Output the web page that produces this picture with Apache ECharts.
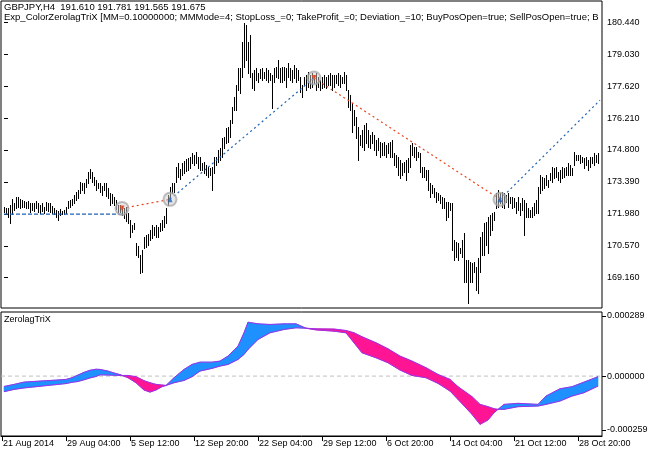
<!DOCTYPE html>
<html><head><meta charset="utf-8">
<script src="https://cdn.jsdelivr.net/npm/echarts@6/dist/echarts.min.js"></script>
<style>html,body{margin:0;padding:0;background:#fff}#c{width:652px;height:456px}</style>
</head><body><div id="c"></div>
<script>
// ---- price bars (H4), high / low ----
const highs = [
172.30,172.22,172.22,172.37,172.62,172.44,172.74,172.71,172.62,172.59,
172.56,172.52,172.56,172.44,172.44,172.47,172.56,172.44,172.37,172.44,
172.30,172.52,172.47,172.44,172.33,172.25,172.15,172.12,172.18,172.12,
172.15,172.30,172.55,172.59,172.62,172.81,172.96,173.03,173.40,173.36,
173.33,173.50,173.84,173.95,173.84,173.59,173.47,173.36,173.33,173.21,
173.36,173.33,173.11,172.89,172.86,172.74,172.59,172.37,172.37,172.33,
172.22,172.30,172.03,171.71,171.49,171.56,170.68,170.56,170.16,170.38,
170.97,171.04,171.09,171.27,171.49,171.41,171.49,171.38,171.59,171.71,
171.88,172.22,172.81,173.18,173.33,173.33,174.06,174.21,173.95,174.24,
174.33,174.39,174.43,174.50,174.68,174.58,174.73,174.47,
174.50,174.21,174.28,174.14,174.06,173.99,174.06,174.50,174.50,174.80,
174.87,175.32,175.39,175.76,175.83,176.12,176.71,177.16,177.67,178.41,
178.41,179.58,180.39,180.32,179.58,179.88,178.19,178.33,178.41,178.19,
178.36,178.41,178.26,178.41,178.33,178.19,178.11,178.41,178.48,178.77,
178.41,178.48,178.48,178.41,178.63,178.41,178.33,178.55,178.41,178.33,
178.04,177.67,178.04,178.11,178.26,178.11,178.19,178.11,178.19,178.04,
177.89,178.04,178.11,178.04,178.11,178.19,178.11,178.11,178.11,178.19,
178.11,178.04,178.26,178.11,177.45,177.23,176.86,176.57,176.27,175.83,
175.46,175.68,175.90,175.98,175.68,175.46,175.61,175.46,175.24,175.31,
175.17,175.09,175.17,175.02,175.09,175.17,175.24,174.65,174.58,174.50,
174.36,174.21,174.28,174.36,174.43,175.02,175.09,174.95,174.95,174.73,
174.65,174.06,174.06,173.92,173.92,173.33,173.25,173.11,172.96,172.89,
172.81,172.74,172.66,172.52,172.52,172.44,172.44,170.82,170.75,170.68,
170.46,170.82,171.12,169.94,169.94,169.87,169.79,169.87,169.65,170.01,
170.97,171.19,171.56,171.63,171.86,171.93,172.00,172.08,172.89,173.03,
172.89,172.96,172.89,172.81,172.89,172.74,172.74,172.66,172.52,172.74,
172.44,172.66,172.59,172.44,172.22,172.15,172.30,172.44,172.59,173.18,
173.70,173.62,173.55,173.70,173.47,173.77,174.06,173.99,174.06,173.84,
173.92,174.06,173.99,174.06,174.21,174.14,173.99,174.73,174.58,174.58,
174.58,174.50,174.43,174.50,174.36,174.50,174.50,174.65,174.58,174.65
];
const lows = [
172.08,171.97,171.86,171.59,171.97,172.15,172.22,172.30,172.22,172.30,
172.30,172.22,172.22,172.08,172.15,172.12,172.22,172.08,172.03,172.11,
172.03,172.15,172.12,172.08,172.00,171.97,171.83,171.71,171.93,171.97,
171.97,172.03,172.22,172.30,172.37,172.44,172.59,172.66,172.89,173.03,
172.92,173.18,173.33,173.55,173.40,173.25,173.03,173.11,172.96,172.81,
173.03,172.77,172.66,172.37,172.44,172.37,172.18,172.08,172.08,171.93,
171.78,171.68,171.56,170.97,171.19,171.30,170.16,170.06,169.35,169.43,
170.46,170.50,170.60,170.82,170.90,171.04,170.97,170.97,171.24,171.27,
171.38,171.56,172.37,172.71,172.89,172.96,173.40,173.62,173.50,173.70,
173.77,173.89,173.92,173.99,174.21,174.14,174.24,173.99,
173.92,173.92,173.77,173.70,173.62,173.70,173.03,173.77,174.14,174.28,
174.36,174.50,174.87,175.09,175.17,175.39,175.98,176.57,176.57,177.45,
177.30,178.04,178.48,178.78,178.18,178.04,177.52,177.45,177.89,177.82,
177.96,177.89,177.96,177.89,177.82,177.89,176.64,177.82,178.04,177.96,
177.82,177.82,177.89,177.60,178.04,177.89,177.82,177.96,177.82,177.89,
177.38,177.16,177.67,177.45,177.60,177.52,177.60,177.74,177.45,177.60,
177.45,177.52,177.60,177.52,177.67,177.67,177.45,177.60,177.74,177.67,
177.60,177.74,177.74,177.45,176.71,176.57,175.61,175.90,175.31,174.36,
175.02,174.95,174.80,175.09,174.95,174.87,175.09,174.80,174.58,174.80,
174.50,174.58,174.58,174.50,174.65,174.50,174.50,174.14,174.06,173.70,
173.55,173.70,173.84,173.47,173.84,174.06,174.58,174.50,174.36,174.50,
173.84,173.62,173.62,173.47,173.03,172.74,172.89,172.74,172.52,172.59,
172.44,172.22,172.22,171.71,171.86,172.15,170.38,169.94,170.09,169.94,
170.24,170.09,168.98,168.98,168.03,168.98,168.98,169.43,168.62,168.47,
169.43,170.16,170.16,170.60,170.24,171.04,171.27,171.71,172.22,172.30,
172.44,172.30,172.22,172.52,172.30,172.44,172.22,172.30,172.00,172.15,
171.93,172.15,171.04,171.86,171.86,171.86,171.86,171.93,172.00,172.00,
172.89,173.03,173.11,173.25,173.18,173.47,173.40,173.55,173.62,173.47,
173.40,173.55,173.62,173.70,173.70,173.70,173.70,174.14,174.36,174.36,
174.21,174.28,173.99,174.14,173.92,174.06,174.21,174.14,174.28,174.21
];

// ---- axis ticks ----
const priceTicks = [169.16,170.57,171.98,173.39,174.80,176.21,177.62,179.03,180.44];
const trixTicks = [0.000289, 0, -0.000259];
const timeTickBars = [-1,31,63,95,127,159,191,223,255,287];
const timeTickLabels = ['21 Aug 2014','29 Aug 04:00','5 Sep 12:00','12 Sep 20:00','22 Sep 04:00','29 Sep 12:00','6 Oct 20:00','14 Oct 04:00','21 Oct 12:00','28 Oct 20:00'];

// ---- trades ----
const prevBuyBars = [0, 59];
const prevBuyPrices = [171.97, 171.97];
const tradeBars = [59, 83, 155, 248];
const tradePrices = [172.22, 172.62, 177.98, 172.62];
const tradeSides = ['sell', 'buy', 'sell', 'buy'];
const openEndBar = 298;
const openEndPrice = 177.00;

// ---- ZerolagTriX (fast / slow) ----
const trixBars = [0,5,10,18,25,31,34,37,40,43,46,48,52,55,58,62,66,70,73,76,79,81,85,90,94,98,104,108,112,117,120,122,127,133,140,146,151,156,165,171,175,179,186,192,198,204,211,217,223,227,234,238,242,245,247,250,257,267,271,278,284,290,297];
const trixFast = [-0.000050,-0.000040,-0.000029,-0.000024,-0.000020,-0.000016,-0.000008,0.000005,0.000018,0.000028,
0.000033,0.000032,0.000024,0.000015,0.000007,-0.000008,-0.000032,-0.000067,-0.000077,-0.000067,
-0.000051,-0.000045,-0.000008,0.000032,0.000056,0.000067,0.000067,0.000072,0.000096,0.000144,
0.000208,0.000259,0.000251,0.000248,0.000251,0.000251,0.000230,0.000222,0.000216,0.000208,
0.000160,0.000112,0.000088,0.000064,0.000029,0.000003,-0.000008,-0.000035,-0.000072,-0.000112,
-0.000184,-0.000232,-0.000211,-0.000176,-0.000160,-0.000136,-0.000131,-0.000136,-0.000096,-0.000061,
-0.000051,-0.000029,-0.000003];
const trixSlow = [-0.000075,-0.000064,-0.000057,-0.000049,-0.000042,-0.000036,-0.000030,-0.000026,-0.000018,-0.000009,
-0.000002,0.000006,0.000005,0.000004,0.000003,0.000003,-0.000003,-0.000022,-0.000032,-0.000040,
-0.000043,-0.000045,-0.000032,-0.000021,-0.000003,0.000024,0.000037,0.000048,0.000056,0.000080,
0.000104,0.000128,0.000176,0.000208,0.000224,0.000232,0.000230,0.000227,0.000226,0.000219,
0.000208,0.000189,0.000160,0.000131,0.000096,0.000072,0.000040,0.000008,-0.000016,-0.000051,
-0.000099,-0.000136,-0.000147,-0.000157,-0.000160,-0.000160,-0.000147,-0.000144,-0.000136,-0.000120,
-0.000096,-0.000080,-0.000048];

const FONT = "'Liberation Sans', Arial, sans-serif";
const BLUE = '#1E90FF', PINK = '#FF1493';
const BUYC = '#1F63B5', SELLC = '#E8441C';

const chart = echarts.init(document.getElementById('c'), null, {renderer: 'canvas'});

const barData = highs.map((h, i) => [i, h, lows[i]]);

function tradeLine(bars, prices, color, dash) {
  return {
    type: 'line', xAxisIndex: 0, yAxisIndex: 0, silent: true,
    data: bars.map((b, k) => [b, prices[k]]),
    showSymbol: false, symbol: 'none',
    lineStyle: {color: color, width: 1.2, type: dash}, z: 3
  };
}

const series = [
  {
    type: 'custom', xAxisIndex: 0, yAxisIndex: 0, silent: true,
    data: barData, encode: {x: 0, y: [1, 2]},
    renderItem: function (params, api) {
      const i = api.value(0);
      const p1 = api.coord([i, api.value(1)]);
      const p2 = api.coord([i, api.value(2)]);
      const x = Math.round(p1[0]) + 0.5;
      return {type: 'line', shape: {x1: x, y1: Math.round(p1[1]), x2: x, y2: Math.round(p2[1]) + 1},
        style: {stroke: '#000', lineWidth: 1}};
    }, z: 2
  },
  tradeLine(prevBuyBars, prevBuyPrices, BUYC, [4, 2]),
  tradeLine([tradeBars[0], tradeBars[1]], [tradePrices[0], tradePrices[1]], SELLC, [2, 3]),
  tradeLine([tradeBars[1], tradeBars[2]], [tradePrices[1], tradePrices[2]], BUYC, [2, 3]),
  tradeLine([tradeBars[2], tradeBars[3]], [tradePrices[2], tradePrices[3]], SELLC, [2, 3]),
  tradeLine([tradeBars[3], openEndBar], [tradePrices[3], openEndPrice], BUYC, [2, 3]),
  {
    type: 'scatter', xAxisIndex: 0, yAxisIndex: 0, silent: true,
    data: tradeBars.map((b, k) => [b, tradePrices[k]]),
    symbol: 'circle', symbolSize: 13,
    itemStyle: {color: 'rgba(205,205,205,0.6)', borderColor: 'rgba(165,165,165,0.9)', borderWidth: 2}, z: 4
  },
  {
    type: 'scatter', xAxisIndex: 0, yAxisIndex: 0, silent: true,
    data: tradeBars.map((b, k) => ({value: [b, tradePrices[k]],
      itemStyle: {color: tradeSides[k] === 'buy' ? BUYC : SELLC},
      symbolRotate: tradeSides[k] === 'buy' ? 0 : 180})),
    symbol: 'triangle', symbolSize: [5, 6], z: 5
  },
  {
    type: 'line', xAxisIndex: 1, yAxisIndex: 1, silent: true,
    data: [[-1.5, 0], [299, 0]], showSymbol: false, symbol: 'none',
    lineStyle: {color: '#c0c0c0', width: 1, type: [4, 3]}, z: 1
  },
  {
    type: 'custom', xAxisIndex: 1, yAxisIndex: 1, silent: true,
    data: trixBars.map((b, k) => [b, trixFast[k], trixSlow[k]]),
    encode: {x: 0, y: [1, 2]},
    renderItem: function (params, api) {
      const k = params.dataIndex;
      if (k >= trixBars.length - 1) return null;
      const b0 = trixBars[k], b1 = trixBars[k + 1];
      const f0 = trixFast[k], f1 = trixFast[k + 1], s0 = trixSlow[k], s1 = trixSlow[k + 1];
      const d0 = f0 - s0, d1 = f1 - s1;
      const col = d => d >= 0 ? BLUE : PINK;
      const poly = (pts, c) => ({type: 'polygon', shape: {points: pts.map(p => api.coord(p))},
        style: {fill: c, stroke: c, lineWidth: 0.6}});
      const children = [];
      if (d0 * d1 < 0) {
        const t = d0 / (d0 - d1);
        const bx = b0 + t * (b1 - b0), vx = f0 + t * (f1 - f0);
        children.push(poly([[b0, f0], [bx, vx], [b0, s0]], col(d0)));
        children.push(poly([[bx, vx], [b1, f1], [b1, s1]], col(d1)));
      } else {
        children.push(poly([[b0, f0], [b1, f1], [b1, s1], [b0, s0]], col(d0 + d1)));
      }
      return {type: 'group', children: children};
    }, z: 2
  },
  {
    type: 'line', xAxisIndex: 1, yAxisIndex: 1, silent: true,
    data: trixBars.map((b, k) => [b, trixSlow[k]]), showSymbol: false, symbol: 'none',
    lineStyle: {color: '#9B30E8', width: 1}, z: 3
  },
  {
    type: 'line', xAxisIndex: 1, yAxisIndex: 1, silent: true,
    data: trixBars.map((b, k) => [b, trixFast[k]]), showSymbol: false, symbol: 'none',
    lineStyle: {color: '#9B30E8', width: 1}, z: 3
  }
];

const labelStyle = {color: '#000', fontSize: 9, fontFamily: FONT};

chart.setOption({
  animation: false,
  backgroundColor: '#fff',
  grid: [
    {left: 1, top: 1, width: 601, height: 307, show: true, borderColor: '#000', borderWidth: 1, backgroundColor: 'transparent'},
    {left: 1, top: 312, width: 601, height: 124, show: true, borderColor: '#000', borderWidth: 1, backgroundColor: 'transparent'}
  ],
  xAxis: [
    {type: 'value', gridIndex: 0, min: -1.5, max: 299, show: false},
    {type: 'value', gridIndex: 1, min: -1.5, max: 299, position: 'bottom',
      axisLine: {show: true, onZero: false, lineStyle: {color: '#000'}},
      splitLine: {show: false},
      axisTick: {show: true, length: 5, customValues: timeTickBars, lineStyle: {color: '#000'}},
      axisLabel: Object.assign({show: true, customValues: timeTickBars, margin: 3, align: 'left',
        padding: [0, 0, 0, 1],
        formatter: v => { const k = timeTickBars.indexOf(v); return k >= 0 ? timeTickLabels[k] : ''; }}, labelStyle)}
  ],
  yAxis: [
    {type: 'value', gridIndex: 0, position: 'right', min: 167.822, max: 181.381, scale: true,
      axisLine: {show: false}, splitLine: {show: false},
      axisTick: {show: true, length: 4, customValues: priceTicks, lineStyle: {color: '#000'}},
      axisLabel: Object.assign({show: true, customValues: priceTicks, margin: 5, align: 'left',
        formatter: v => v.toFixed(3)}, labelStyle)},
    {type: 'value', gridIndex: 1, position: 'right', min: -0.000288, max: 0.000308,
      axisLine: {show: false, onZero: false}, splitLine: {show: false},
      axisTick: {show: true, length: 4, customValues: trixTicks, lineStyle: {color: '#000'}},
      axisLabel: Object.assign({show: true, customValues: trixTicks, margin: 5, align: 'left',
        formatter: v => v.toFixed(6)}, labelStyle)}
  ],
  graphic: [
    {type: 'text', left: 4, top: 2, z: 10, style: {text: 'GBPJPY,H4  191.610 191.781 191.565 191.675', font: '9.5px ' + FONT, fill: '#000'}},
    {type: 'text', left: 4, top: 12, z: 10, style: {text: 'Exp_ColorZerolagTriX [MM=0.10000000; MMMode=4; StopLoss_=0; TakeProfit_=0; Deviation_=10; BuyPosOpen=true; SellPosOpen=true; B', font: '9.5px ' + FONT, fill: '#000'}},
    {type: 'text', left: 4, top: 315, z: 10, style: {text: 'ZerolagTriX', font: '9px ' + FONT, fill: '#000'}}
  ],
  series: series
});
</script>
</body></html>
